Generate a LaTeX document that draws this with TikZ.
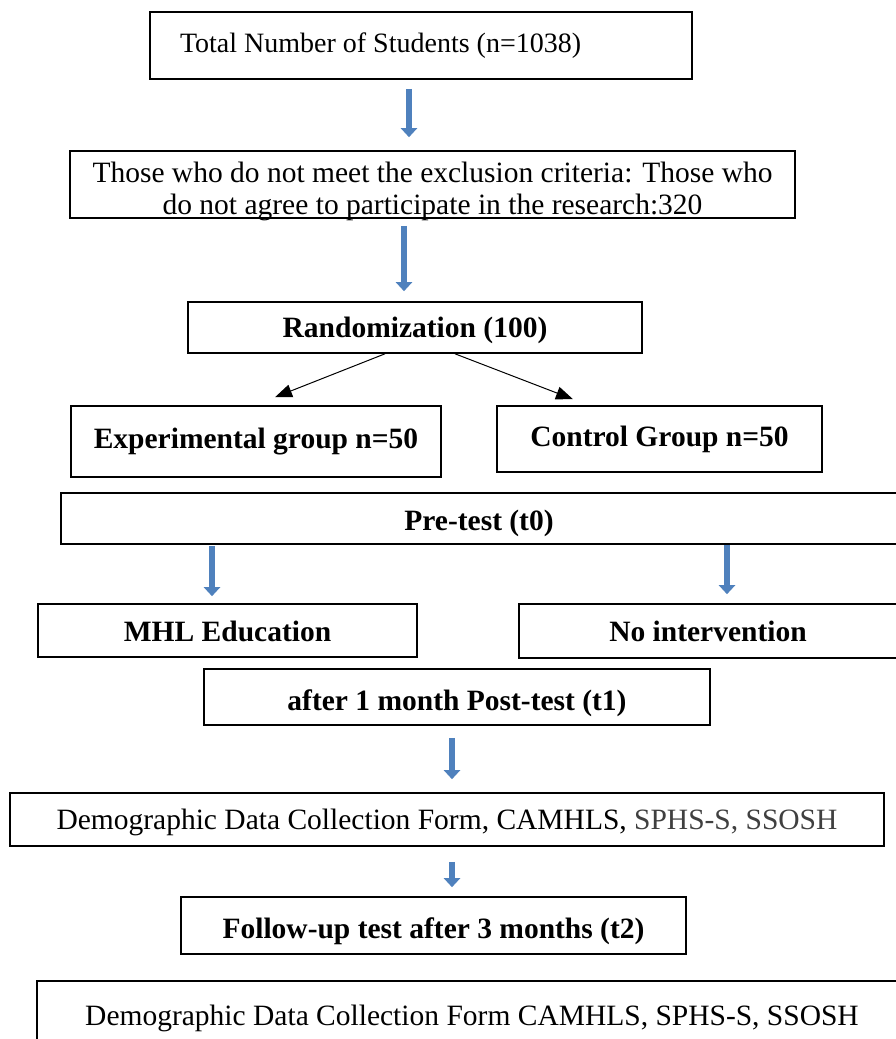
\documentclass[tikz,border=0pt]{standalone}
\usepackage{fontspec}
\setmainfont{Liberation Serif}
\usepackage{xcolor}
\usetikzlibrary{arrows.meta,calc}
\definecolor{arrowblue}{HTML}{4F81BD}
\definecolor{softgray}{HTML}{404040}

\begin{document}
\begin{tikzpicture}[
  x=1pt, y=-1pt,
  font=\fontsize{29.5}{32}\selectfont,
  box/.style={draw, line width=1.6pt, inner sep=0pt, align=center, minimum width=#1},
  bbox/.style={box=#1, font=\fontsize{29.5}{32}\selectfont\bfseries},
  drop/.style={text height=#1, text depth=6.4pt},
  blockarrow/.style={draw=arrowblue, line width=6pt, -{Triangle[width=16pt,length=9pt]}},
  split/.style={line width=1pt, -{Triangle[width=13pt,length=17pt]}}]
\useasboundingbox (0,0) rectangle (895,1039);

% boxes
\node[box=542pt, minimum height=67pt, text width=482pt, inner xsep=30pt, align=flush left, font=\fontsize{28}{32}\selectfont] (total) at (421,45.5) {Total Number of Students (n=1038)};
\node[box=725pt, minimum height=67pt, text height=60pt, text depth=0pt] (excl) at (432.5,184.5) {Those who do not meet the exclusion criteria: Those who\\do not agree to participate in the research:320};
\node[bbox=454pt, minimum height=51pt, drop=26.5pt] (rand) at (415,327.5) {Randomization (100)};
\node[bbox=370pt, minimum height=71pt] (exp) at (256,441.5) {Experimental group n=50};
\node[bbox=325pt, minimum height=66pt] (ctrl) at (659.5,439) {Control Group n=50};
\node[bbox=836pt, minimum height=51pt, drop=30.5pt] (pre) at (479,518.5) {Pre-test (t0)};
\node[bbox=379pt, minimum height=53pt, drop=28.5pt] (mhl) at (227.5,630.5) {MHL Education};
\node[bbox=378pt, minimum height=54pt, drop=26.5pt] (noint) at (708,631) {No intervention};
\node[bbox=506pt, minimum height=56pt, drop=32.5pt] (post) at (457,697) {after 1 month Post-test (t1)};
\node[box=874pt, minimum height=53pt, drop=26.5pt] (demo1) at (447,819.5) {Demographic Data Collection Form, CAMHLS, {\color{softgray}SPHS-S, SSOSH}};
\node[bbox=505pt, minimum height=57pt, drop=32.5pt] (follow) at (433.5,925.5) {Follow-up test after 3 months (t2)};
\node[box=870pt, minimum height=64pt, drop=30.5pt] (demo2) at (472,1013) {Demographic Data Collection Form CAMHLS, SPHS-S, SSOSH};

% arrows
\draw[blockarrow, shorten <=9pt, shorten >=13pt] (total.south -| 409,0) -- (excl.north -| 409,0);
\draw[blockarrow, shorten <=7pt, shorten >=10pt] (excl.south -| 404,0) -- (rand.north -| 404,0);
\draw[split] (rand.south -| 385,0) -- ($(exp.north -| 275,0)+(0,-8)$);
\draw[split] (rand.south -| 455,0) -- ($(ctrl.north -| 573,0)+(0,-6)$);
\draw[blockarrow, shorten <=1pt, shorten >=7pt] (pre.south -| 212,0) -- (mhl.north -| 212,0);
\draw[blockarrow, shorten <=0pt, shorten >=9pt] (pre.south -| 727,0) -- (noint.north -| 727,0);
\draw[blockarrow, shorten <=12pt, shorten >=13pt] (post.south -| 452,0) -- (demo1.north -| 452,0);
\draw[blockarrow, shorten <=15pt, shorten >=9pt] (demo1.south -| 452,0) -- (follow.north -| 452,0);
\end{tikzpicture}
\end{document}
